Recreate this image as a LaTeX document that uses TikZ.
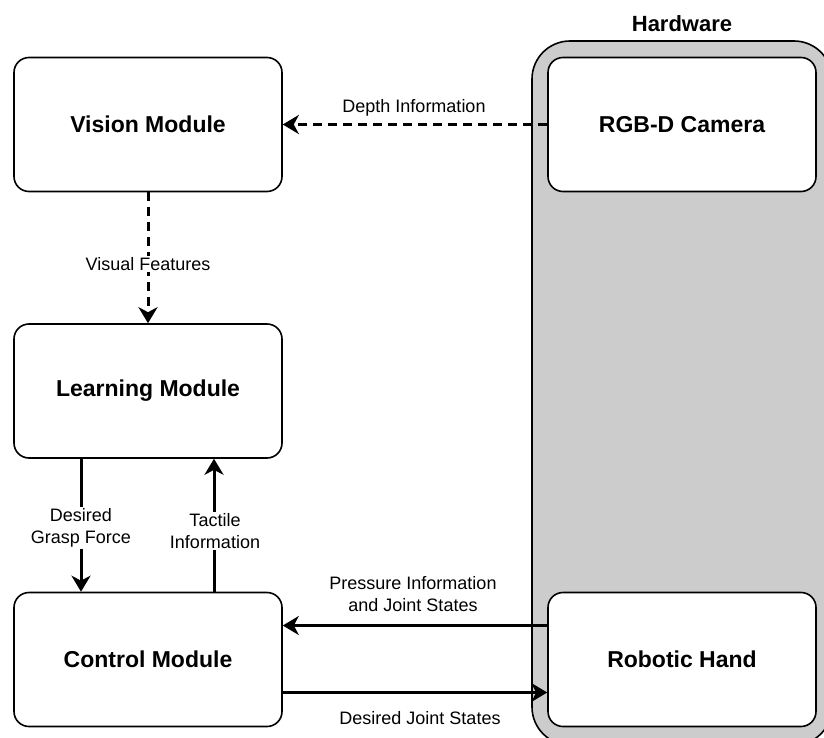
\documentclass[tikz,border=0pt]{standalone}
\usepackage{fontspec}
\setmainfont{Liberation Sans}
\usetikzlibrary{arrows.meta}
\definecolor{hwgray}{RGB}{204,204,204}
\tikzset{
  module/.style={draw, line width=1.6pt, fill=white, rounded corners=15pt,
    minimum width=268pt, minimum height=134pt, inner sep=0pt,
    font=\bfseries\fontsize{23}{28}\selectfont},
  hwframe/.style={draw, line width=1.6pt, fill=hwgray, rounded corners=38pt,
    minimum width=300pt, minimum height=704pt, inner sep=0pt},
  flow/.style={line width=3pt, -{Stealth[length=16pt, width=19pt, inset=5pt]}},
  dashflow/.style={flow, dash pattern=on 9pt off 6pt},
  lbl/.style={font=\fontsize{18}{21.5}\selectfont, align=center, inner sep=1.5pt},
  lblbg/.style={lbl, fill=white}
}
\begin{document}
\begin{tikzpicture}[x=1pt, y=-1pt]
  \useasboundingbox (0,0) rectangle (824,738);
  \clip (0,0) rectangle (824,738);

  % hardware container and its title
  \node[hwframe] (hw) at (682,393) {};
  \node[font=\bfseries\fontsize{22}{26}\selectfont, anchor=base] (hwtitle) at (682,32) {Hardware};

  % software modules
  \node[module] (vis) at (148,124.5) {Vision Module};
  \node[module] (learn) at (148,391) {Learning Module};
  \node[module] (ctrl) at (148,659.5) {Control Module};

  % hardware devices
  \node[module] (cam) at (682,124.5) {RGB-D Camera};
  \node[module] (hand) at (682,659.5) {Robotic Hand};

  % data flows
  \draw[dashflow] (cam.west) -- (vis.east);
  \draw[dashflow] (vis.south) -- (learn.north);
  \draw[flow] ([xshift=-67pt]learn.south) -- ([xshift=-67pt]ctrl.north);
  \draw[flow] ([xshift=66pt]ctrl.north) -- ([xshift=66pt]learn.south);
  \draw[flow] ([yshift=34pt]hand.west) -- ([yshift=34pt]ctrl.east);
  \draw[flow] ([yshift=-33pt]ctrl.east) -- ([yshift=-33pt]hand.west);

  % flow labels
  \node[lbl] (ldepth) at (414,108) {Depth Information};
  \node[lblbg] (lvisual) at (148,264) {Visual Features};
  \node[lblbg] (lgrasp) at (81,528) {Desired\\Grasp Force};
  \node[lblbg] (ltactile) at (215,531) {Tactile\\Information};
  \node[lbl] (lpress) at (413,594) {Pressure Information\\and Joint States};
  \node[lbl] (ljoint) at (420,718) {Desired Joint States};
\end{tikzpicture}
\end{document}
